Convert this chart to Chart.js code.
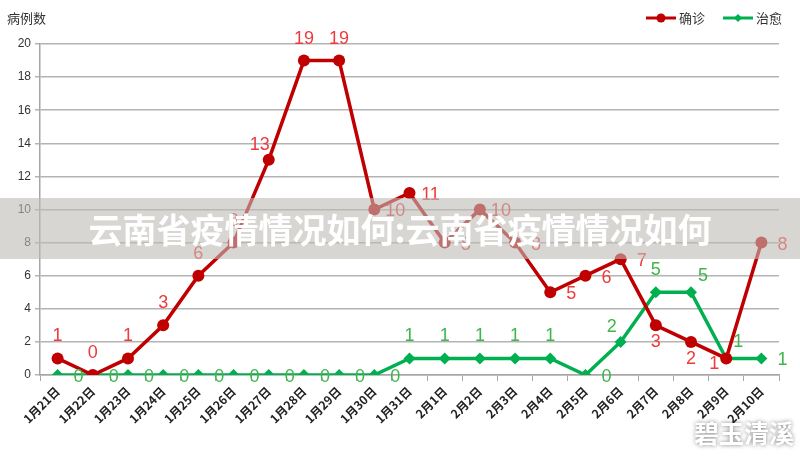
<!DOCTYPE html>
<html lang="zh">
<head>
<meta charset="UTF-8">
<script src="https://cdn.jsdelivr.net/npm/chart.js"></script>
<style>
  body { margin: 0; background: #fff; }
  #wrap { position: relative; width: 800px; height: 458px; }
  #banner {
    position: absolute; left: 0; top: 198px; width: 800px; height: 61px;
    background: rgba(190, 187, 182, 0.6);
    color: #fff; font: bold 34px "Noto Sans CJK SC", sans-serif;
    text-align: center; line-height: 61px; letter-spacing: 0px;
  }
  #mark {
    position: absolute; right: 6px; top: 414px;
    color: #fff; font: bold 25px "Noto Sans CJK SC", sans-serif;
    text-shadow: 0 0 4px rgba(0,0,0,0.5);
  }
</style>
</head>
<body>
<div id="wrap">
  <canvas id="c" width="800" height="458"></canvas>
  <div id="banner">云南省疫情情况如何:云南省疫情情况如何</div>
  <div id="mark">碧玉清溪</div>
</div>
<script>
  // 日期
  const dates = ['1月21日','1月22日','1月23日','1月24日','1月25日','1月26日','1月27日',
    '1月28日','1月29日','1月30日','1月31日','2月1日','2月2日','2月3日','2月4日',
    '2月5日','2月6日','2月7日','2月8日','2月9日','2月10日'];
  // 确诊
  const confirmed = [1,0,1,3,6,8,13,19,19,10,11,8,10,8,5,6,7,3,2,1,8];
  // 治愈
  const cured = [0,0,0,0,0,0,0,0,0,0,1,1,1,1,1,0,2,5,5,1,1];
  const yTicks = [0,2,4,6,8,10,12,14,16,18,20];

  // 数字标签的位置
  const confirmedPos = ['t','t','t','t','t','t','tl','t','t','r','r','r','r','r','r','r','r','b','b','bl','r'];
  const curedPos = ['r','r','r','r','r','r','r','r','r','r','t','t','t','t','t','r','tl','t','tr','tr','r'];

  const labelPlugin = {
    id: 'labels',
    afterDatasetsDraw(chart) {
      const ctx = chart.ctx;
      ctx.save();
      ctx.font = '18px "Liberation Sans", sans-serif';
      ctx.textAlign = 'center';
      ctx.textBaseline = 'middle';
      const sets = [[0, confirmedPos, '#ee3a3a'], [1, curedPos, '#3fb54a']];
      sets.forEach(([di, pos, col]) => {
        const meta = chart.getDatasetMeta(di);
        const vals = chart.data.datasets[di].data;
        ctx.fillStyle = col;
        meta.data.forEach((pt, i) => {
          let x = pt.x, y = pt.y;
          switch (pos[i]) {
            case 't': y -= 22; break;
            case 'b': y += 17; break;
            case 'r': x += 21; y += 2; break;
            case 'bl': x -= 12; y += 6; break;
            case 'tl': x -= 9; y -= 15; break;
            case 'tr': x += 12; y -= 16; break;
          }
          ctx.fillText(String(vals[i]), x, y);
        });
      });
      ctx.restore();
    },
    afterDraw(chart) {
      const ctx = chart.ctx;
      ctx.save();
      ctx.fillStyle = '#333';
      ctx.font = '13px "Noto Sans CJK SC", sans-serif';
      ctx.textBaseline = 'middle';
      ctx.fillText('病例数', 7, 18);
      // 图例
      ctx.lineWidth = 3;
      ctx.strokeStyle = '#c00000';
      ctx.beginPath(); ctx.moveTo(646, 18); ctx.lineTo(676, 18); ctx.stroke();
      ctx.fillStyle = '#c00000';
      ctx.beginPath(); ctx.arc(661, 18, 4.5, 0, Math.PI * 2); ctx.fill();
      ctx.strokeStyle = '#00b050';
      ctx.beginPath(); ctx.moveTo(723, 18); ctx.lineTo(753, 18); ctx.stroke();
      ctx.fillStyle = '#00b050';
      ctx.beginPath(); ctx.moveTo(738, 14); ctx.lineTo(742, 18); ctx.lineTo(738, 22); ctx.lineTo(734, 18); ctx.closePath(); ctx.fill();
      ctx.fillStyle = '#333';
      ctx.fillText('确诊', 679, 18);
      ctx.fillText('治愈', 756, 18);
      ctx.restore();
    }
  };

  new Chart(document.getElementById('c'), {
    type: 'line',
    data: {
      labels: dates,
      datasets: [{
        label: '确诊',
        data: confirmed,
        borderColor: '#c00000',
        backgroundColor: '#c00000',
        borderWidth: 3.5,
        pointStyle: 'circle',
        pointRadius: 6,
        pointBorderWidth: 0,
        tension: 0
      }, {
        label: '治愈',
        data: cured,
        borderColor: '#00b050',
        backgroundColor: '#00b050',
        borderWidth: 3.5,
        pointStyle: 'rectRot',
        pointRadius: 6,
        pointBorderWidth: 0,
        tension: 0
      }]
    },
    options: {
      responsive: false,
      animation: false,
      layout: { padding: { top: 44, right: 21, left: 0, bottom: 0 } },
      plugins: { legend: { display: false }, tooltip: { enabled: false } },
      scales: {
        x: {
          offset: true,
          afterFit(s) { s.height = 83; },
          grid: { drawOnChartArea: false, drawTicks: true, tickLength: 6, color: '#a6a6a6', offset: true },
          border: { color: '#a6a6a6', width: 1.5 },
          ticks: {
            autoSkip: false, minRotation: 45, maxRotation: 45,
            color: '#222', font: { size: 12, weight: 'bold', family: '"Noto Sans CJK SC", sans-serif' }
          }
        },
        y: {
          min: 0, max: 20,
          afterFit(s) { s.width = 40; },
          afterBuildTicks(s) { s.ticks = yTicks.map(v => ({ value: v })); },
          grid: { color: '#b4b4b4', lineWidth: 1.5, tickLength: 5 },
          border: { color: '#a6a6a6', width: 1.5 },
          ticks: { color: '#333', padding: 4, font: { size: 12, family: '"Liberation Sans", sans-serif' } }
        }
      }
    },
    plugins: [labelPlugin]
  });
</script>
</body>
</html>
